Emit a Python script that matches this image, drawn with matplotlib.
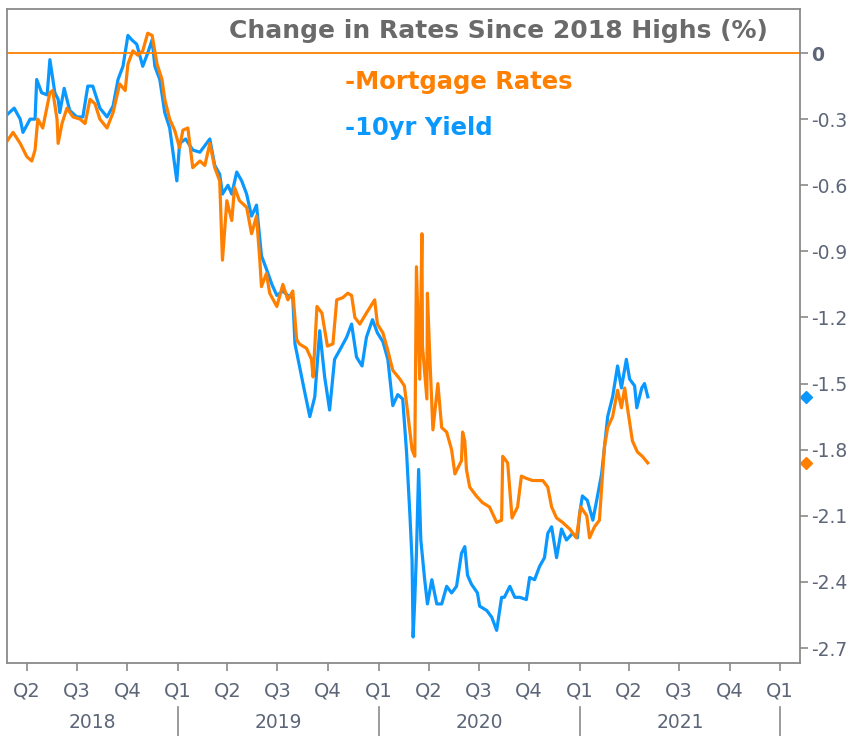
import matplotlib
matplotlib.use("Agg")
import matplotlib.pyplot as plt
import matplotlib.transforms as mtransforms
import pandas as pd

plt.rcParams['axes.unicode_minus'] = False

# change since 2018 highs
blue_dates = [
    "2018-02-24", "2018-03-09", "2018-03-20", "2018-03-25", "2018-04-07", "2018-04-16", "2018-04-19",
    "2018-04-28", "2018-05-08", "2018-05-13", "2018-05-22", "2018-05-28", "2018-05-31", "2018-06-08",
    "2018-06-18", "2018-07-01", "2018-07-12", "2018-07-21", "2018-07-30", "2018-08-12", "2018-08-25",
    "2018-09-05", "2018-09-14", "2018-09-23", "2018-10-02", "2018-10-09", "2018-10-18", "2018-10-29",
    "2018-11-07", "2018-11-15", "2018-11-20", "2018-11-29", "2018-12-08", "2018-12-17", "2018-12-30",
    "2019-01-04", "2019-01-15", "2019-01-28", "2019-02-10", "2019-02-19", "2019-02-28", "2019-03-09",
    "2019-03-18", "2019-03-23", "2019-04-02", "2019-04-09", "2019-04-18", "2019-04-27", "2019-05-06",
    "2019-05-15", "2019-05-24", "2019-06-02", "2019-06-11", "2019-06-21", "2019-06-30", "2019-07-11",
    "2019-07-20", "2019-07-29", "2019-08-02", "2019-08-10", "2019-08-19", "2019-08-29", "2019-09-07",
    "2019-09-16", "2019-09-25", "2019-10-04", "2019-10-13", "2019-10-22", "2019-11-04", "2019-11-13",
    "2019-11-22", "2019-12-02", "2019-12-10", "2019-12-21", "2019-12-30",
    "2020-01-09", "2020-01-18", "2020-01-27", "2020-02-05", "2020-02-14", "2020-02-17", "2020-02-21",
    "2020-02-27", "2020-03-02", "2020-03-04", "2020-03-07", "2020-03-10", "2020-03-14", "2020-03-18",
    "2020-03-25", "2020-03-30", "2020-04-07", "2020-04-16", "2020-04-25", "2020-05-04", "2020-05-13",
    "2020-05-22", "2020-05-31", "2020-06-06", "2020-06-11", "2020-06-18", "2020-06-29", "2020-07-03",
    "2020-07-16", "2020-07-25", "2020-08-03", "2020-08-12", "2020-08-17", "2020-08-27", "2020-09-05",
    "2020-09-14", "2020-09-26", "2020-10-02", "2020-10-11", "2020-10-20", "2020-10-29", "2020-11-04",
    "2020-11-11", "2020-11-20", "2020-11-29", "2020-12-08", "2020-12-19", "2020-12-28",
    "2021-01-01", "2021-01-06", "2021-01-15", "2021-01-25", "2021-02-01", "2021-02-10", "2021-02-15",
    "2021-02-21", "2021-03-02", "2021-03-11", "2021-03-18", "2021-03-27", "2021-04-02", "2021-04-11",
    "2021-04-15", "2021-04-24", "2021-04-29", "2021-05-05"]
yield_10yr = [
    -0.28, -0.25, -0.30, -0.36, -0.30, -0.30, -0.12, -0.18, -0.19, -0.03, -0.18, -0.21, -0.27, -0.16,
    -0.26, -0.29, -0.29, -0.15, -0.15, -0.25, -0.29, -0.24, -0.12, -0.06, 0.08, 0.06, 0.04, -0.06,
    0.00, 0.06, -0.06, -0.12, -0.27, -0.34, -0.58,
    -0.41, -0.39, -0.44, -0.45, -0.42, -0.39, -0.51, -0.55, -0.64, -0.60, -0.64, -0.54, -0.58, -0.64,
    -0.74, -0.69, -0.92, -0.98, -1.05, -1.10, -1.08, -1.10, -1.11, -1.32, -1.42, -1.53, -1.65, -1.56,
    -1.26, -1.47, -1.62, -1.39, -1.35, -1.29, -1.23, -1.38, -1.42, -1.29, -1.21, -1.27,
    -1.31, -1.39, -1.60, -1.55, -1.57, -1.67, -1.81, -2.09, -2.30, -2.65, -2.48, -2.27, -1.89, -2.21,
    -2.39, -2.50, -2.39, -2.50, -2.50, -2.42, -2.45, -2.42, -2.27, -2.24, -2.37, -2.41, -2.45, -2.51,
    -2.53, -2.56, -2.62, -2.47, -2.47, -2.42, -2.47, -2.47, -2.48, -2.38, -2.39, -2.33, -2.29, -2.18,
    -2.15, -2.29, -2.16, -2.21, -2.18, -2.20,
    -2.09, -2.01, -2.03, -2.12, -2.03, -1.91, -1.79, -1.65, -1.56, -1.42, -1.52, -1.39, -1.48, -1.51,
    -1.61, -1.52, -1.50, -1.56]

orange_dates = [
    "2018-02-24", "2018-03-07", "2018-03-20", "2018-04-01", "2018-04-10", "2018-04-16", "2018-04-21",
    "2018-04-30", "2018-05-13", "2018-05-18", "2018-05-26", "2018-05-28", "2018-06-04", "2018-06-13",
    "2018-06-24", "2018-07-07", "2018-07-16", "2018-07-25", "2018-08-03", "2018-08-12", "2018-08-25",
    "2018-09-05", "2018-09-17", "2018-09-27", "2018-10-02", "2018-10-11", "2018-10-20", "2018-10-29",
    "2018-11-07", "2018-11-15", "2018-11-24", "2018-12-03", "2018-12-08", "2018-12-17", "2018-12-26",
    "2019-01-04", "2019-01-10", "2019-01-19", "2019-01-28", "2019-02-10", "2019-02-19", "2019-02-28",
    "2019-03-09", "2019-03-18", "2019-03-23", "2019-03-31", "2019-04-09", "2019-04-14", "2019-04-23",
    "2019-05-06", "2019-05-15", "2019-05-24", "2019-05-30", "2019-06-02", "2019-06-11", "2019-06-17",
    "2019-06-30", "2019-07-11", "2019-07-20", "2019-07-29", "2019-08-05", "2019-08-10", "2019-08-23",
    "2019-09-01", "2019-09-04", "2019-09-11", "2019-09-20", "2019-09-30", "2019-10-10", "2019-10-17",
    "2019-10-28", "2019-11-06", "2019-11-13", "2019-11-19", "2019-11-28", "2019-12-10", "2019-12-25",
    "2019-12-30",
    "2020-01-09", "2020-01-18", "2020-01-27", "2020-02-09", "2020-02-17", "2020-02-23", "2020-03-02",
    "2020-03-07", "2020-03-10", "2020-03-16", "2020-03-20", "2020-03-21", "2020-03-29", "2020-03-30",
    "2020-04-03", "2020-04-09", "2020-04-18", "2020-04-25", "2020-05-04", "2020-05-13", "2020-05-19",
    "2020-05-31", "2020-06-02", "2020-06-06", "2020-06-09", "2020-06-15", "2020-06-27", "2020-07-08",
    "2020-07-21", "2020-08-03", "2020-08-12", "2020-08-14", "2020-08-23", "2020-08-31", "2020-09-10",
    "2020-09-17", "2020-09-26", "2020-10-07", "2020-10-26", "2020-11-04", "2020-11-11", "2020-11-20",
    "2020-12-01", "2020-12-14", "2020-12-26",
    "2021-01-03", "2021-01-14", "2021-01-19", "2021-01-28", "2021-02-06", "2021-02-15", "2021-02-21",
    "2021-03-02", "2021-03-11", "2021-03-18", "2021-03-24", "2021-03-29", "2021-04-07", "2021-04-16",
    "2021-04-25", "2021-05-05"]
mortgage = [
    -0.40, -0.36, -0.41, -0.47, -0.49, -0.44, -0.30, -0.34, -0.18, -0.17, -0.30, -0.41, -0.32, -0.25,
    -0.29, -0.30, -0.32, -0.21, -0.23, -0.30, -0.34, -0.27, -0.14, -0.17, -0.05, 0.01, -0.01, 0.01,
    0.09, 0.08, -0.05, -0.12, -0.21, -0.30, -0.35,
    -0.43, -0.35, -0.34, -0.52, -0.49, -0.51, -0.41, -0.52, -0.58, -0.94, -0.67, -0.76, -0.61, -0.67,
    -0.70, -0.82, -0.74, -0.94, -1.06, -1.00, -1.09, -1.15, -1.05, -1.12, -1.08, -1.30, -1.32, -1.34,
    -1.39, -1.47, -1.15, -1.18, -1.33, -1.32, -1.12, -1.11, -1.09, -1.10, -1.20, -1.23, -1.18, -1.12,
    -1.23,
    -1.27, -1.35, -1.44, -1.48, -1.51, -1.63, -1.80, -1.83, -0.97, -1.48, -0.82, -1.33, -1.57, -1.09,
    -1.36, -1.71, -1.50, -1.70, -1.72, -1.80, -1.91, -1.85, -1.72, -1.76, -1.89, -1.97, -2.01, -2.04,
    -2.06, -2.13, -2.12, -1.83, -1.86, -2.11, -2.06, -1.92, -1.93, -1.94, -1.94, -1.97, -2.06, -2.11,
    -2.13, -2.16, -2.20,
    -2.06, -2.10, -2.20, -2.15, -2.12, -1.79, -1.70, -1.65, -1.53, -1.61, -1.52, -1.61, -1.76, -1.81,
    -1.83, -1.86]

y_ticks = [0, -0.3, -0.6, -0.9, -1.2, -1.5, -1.8, -2.1, -2.4, -2.7]
years = [2018, 2019, 2020, 2021]

ORANGE = "#ff8000"
BLUE = "#0a98ff"
GRAY = "#5d6678"

x_start = pd.Timestamp("2018-02-24")
x_end = pd.Timestamp("2022-02-06")

fig = plt.figure(figsize=(8.57, 7.36), dpi=100)
ax = fig.add_axes([0.0082, 0.0992, 0.9253, 0.8886])

ax.plot(pd.to_datetime(blue_dates), yield_10yr, color=BLUE, lw=2.3)
ax.plot(pd.to_datetime(orange_dates), mortgage, color=ORANGE, lw=2.3)
ax.axhline(0, color=ORANGE, lw=1.3)

ax.set_xlim(x_start, x_end)
ax.set_ylim(-2.768, 0.2)

for s in ax.spines.values():
    s.set_color("#8a8a8a")
    s.set_linewidth(1.3)

# right y axis
ax.yaxis.tick_right()
ax.set_yticks(y_ticks)
ax.set_yticklabels(["0"] + ["%.1f" % v for v in y_ticks[1:]])
ax.tick_params(axis="y", direction="out", length=6, width=1.2, color="#8a8a8a",
               labelsize=13.5, labelcolor=GRAY, pad=2)
ax.get_yticklabels()[0].set_fontweight("bold")

# quarter ticks
q_dates = pd.date_range("2018-04-01", "2022-01-01", freq="QS")
ax.set_xticks(q_dates)
ax.set_xticklabels(["Q%d" % d.quarter for d in q_dates])
ax.tick_params(axis="x", direction="out", length=6, width=1.2, color="#8a8a8a",
               labelsize=14, labelcolor=GRAY, pad=7)

# year labels with separators
trans = mtransforms.blended_transform_factory(ax.transData, ax.transAxes)
for yr in years:
    a = max(pd.Timestamp("%d-01-01" % yr), x_start)
    b = pd.Timestamp("%d-01-01" % (yr + 1))
    ax.text(a + (b - a) / 2, -0.091, str(yr), transform=trans, ha="center", va="center",
            fontsize=13.5, color=GRAY)
    ax.plot([b, b], [-0.067, -0.115], transform=trans, color="#8a8a8a", lw=1.2, clip_on=False)

# last value markers on the axis
mark = mtransforms.blended_transform_factory(ax.transAxes, ax.transData)
ax.plot([1.008], [yield_10yr[-1]], marker="D", ms=6, color=BLUE, transform=mark, clip_on=False)
ax.plot([1.008], [mortgage[-1]], marker="D", ms=6, color=ORANGE, transform=mark, clip_on=False)

ax.text(0.9596, 0.966, "Change in Rates Since 2018 Highs (%)", transform=ax.transAxes,
        ha="right", va="center", fontsize=18, fontweight="bold", color="#6a6a6a")
ax.text(0.426, 0.888, "-Mortgage Rates", transform=ax.transAxes, ha="left", va="center",
        fontsize=17.5, fontweight="bold", color=ORANGE)
ax.text(0.426, 0.818, "-10yr Yield", transform=ax.transAxes, ha="left", va="center",
        fontsize=17.5, fontweight="bold", color=BLUE)

fig.savefig("out.png", dpi=100)
